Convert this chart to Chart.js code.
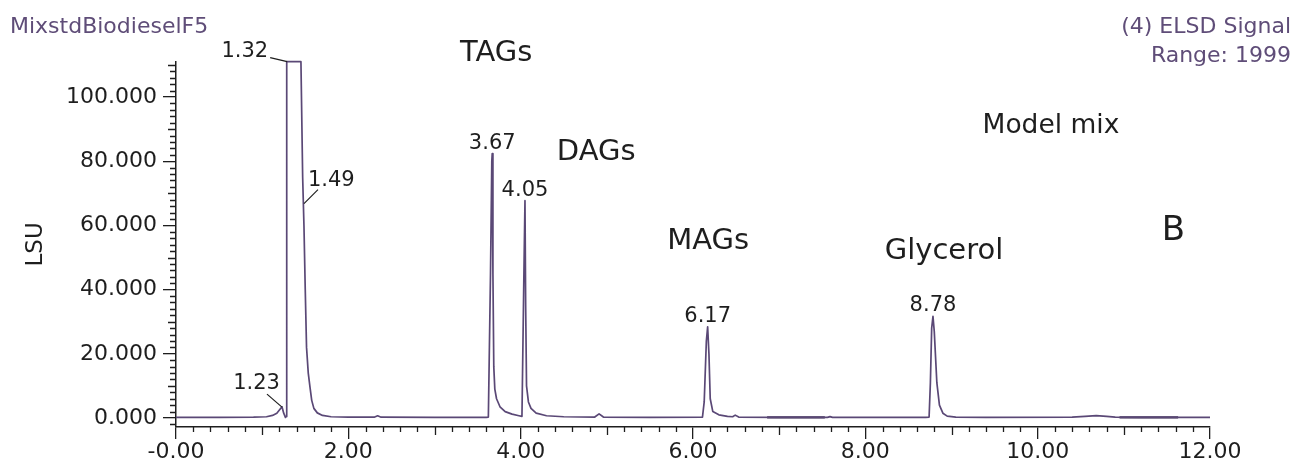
<!DOCTYPE html>
<html>
<head>
<meta charset="utf-8">
<title>MixstdBiodieselF5 - ELSD</title>
<script src="https://cdn.jsdelivr.net/npm/chart.js@4.4.1/dist/chart.umd.min.js"></script>
<style>
  html, body { margin: 0; padding: 0; background: #fff; }
  #wrap { width: 1296px; height: 461px; position: relative; }
</style>
</head>
<body>
<div id="wrap"><canvas id="chromatogram"></canvas></div>
<script>
// retention time (min) and ELSD signal (thousands of LSU)
const times = [
  0.00, 0.50, 0.90, 1.05, 1.12, 1.17, 1.20, 1.23, 1.25, 1.27, 1.28,
  1.285, 1.45, 1.47, 1.485, 1.50, 1.515, 1.535, 1.555, 1.575, 1.60, 1.64, 1.70, 1.80, 2.00,
  2.30, 2.34, 2.38, 3.00, 3.60,
  3.625, 3.65, 3.665, 3.67, 3.678, 3.688, 3.70, 3.72, 3.76, 3.82, 3.90, 3.98,
  4.015, 4.035, 4.05, 4.058, 4.068, 4.09, 4.12, 4.18, 4.30, 4.50,
  4.86, 4.91, 4.96, 5.50,
  6.11, 6.13, 6.155, 6.17, 6.185, 6.20, 6.23, 6.30, 6.40, 6.46, 6.49, 6.53, 7.00,
  7.56, 7.59, 7.62, 8.70,
  8.74, 8.755, 8.77, 8.785, 8.80, 8.83, 8.86, 8.90, 8.95, 9.05, 9.40,
  10.40, 10.55, 10.68, 10.80, 10.90, 11.20, 12.00
];
const signal = [
  0.20, 0.20, 0.25, 0.40, 0.80, 1.50, 2.50, 3.50, 1.50, 0.20, 0.50,
  111.0, 111.0, 75.0, 60.0, 40.0, 22.0, 14.0, 9.6, 5.5, 3.0, 1.6, 0.8, 0.4, 0.3,
  0.25, 0.7, 0.25, 0.2, 0.2,
  0.3, 45.0, 80.0, 82.4, 45.0, 16.0, 9.0, 6.0, 3.5, 2.0, 1.2, 0.7,
  0.5, 40.0, 67.7, 35.0, 10.0, 5.0, 3.0, 1.5, 0.7, 0.4,
  0.3, 1.3, 0.3, 0.2,
  0.3, 5.0, 24.0, 28.4, 20.0, 6.0, 2.0, 1.0, 0.5, 0.4, 0.9, 0.3, 0.2,
  0.2, 0.45, 0.2, 0.2,
  0.3, 11.0, 28.0, 31.7, 27.0, 11.0, 4.0, 1.5, 0.6, 0.3, 0.2,
  0.25, 0.5, 0.75, 0.5, 0.25, 0.2, 0.2
];
// integration baseline segments (start, end in min; level in thousands of LSU)
const baseStarts = [6.86, 10.95];
const baseEnds = [7.53, 11.63];
const baseLevels = [0.2, 0.2];

const xTickLabels = ['-0.00', '2.00', '4.00', '6.00', '8.00', '10.00', '12.00'];
const yTickLabels = ['0.000', '20.000', '40.000', '60.000', '80.000', '100.000'];

// peak retention-time labels
const peakNames = ['1.23', '1.32', '1.49', '3.67', '4.05', '6.17', '8.78'];
const peakTimes = [1.23, 1.29, 1.485, 3.67, 4.05, 6.17, 8.785];
const peakHeights = [3.4, 111.0, 66.8, 82.4, 67.7, 28.4, 31.7];

// compound class annotations
const classNames = ['TAGs', 'DAGs', 'MAGs', 'Glycerol', 'Model mix', 'B'];
const classTimes = [3.295, 4.42, 5.70, 8.225, 9.36, 11.44];
const classLevels = [111.2, 80.4, 52.8, 49.4, 88.8, 55.6];

const FONT = '"DejaVu Sans", Verdana, sans-serif';
const INK = '#1e1e1e';
const TRACE = '#5a4876';
const HEAD = '#5f4d78';

// how the leader-line labels sit around their peak (px)
const leaderStyle = {
  '1.23': { align: 'right', dx: -2, dy: -18, lx: -15, ly: -13 },
  '1.32': { align: 'right', dx: -19, dy: -5, lx: -17, ly: -4 },
  '1.49': { align: 'left', dx: 4, dy: -18, lx: 14, ly: -14 }
};

const baselineData = [];
baseStarts.forEach((s, i) => {
  baselineData.push({ x: s, y: baseLevels[i] }, { x: baseEnds[i], y: baseLevels[i] }, { x: baseEnds[i], y: null });
});

const overlay = {
  id: 'overlay',
  afterDraw(chart) {
    const ctx = chart.ctx;
    const xs = chart.scales.x, ys = chart.scales.y;
    const area = chart.chartArea;
    ctx.save();
    ctx.strokeStyle = INK;
    ctx.lineWidth = 1.3;

    // minor ticks on x: every 0.2, longer at odd minutes
    ctx.beginPath();
    for (let i = 0; i <= 60; i++) {
      if (i % 10 === 0) continue;
      const px = Math.round(xs.getPixelForValue(i * 0.2)) + 0.5;
      const len = i % 5 === 0 ? 8 : 5;
      ctx.moveTo(px, area.bottom);
      ctx.lineTo(px, area.bottom + len);
    }
    // minor ticks on y: every 2 (thousand)
    for (let v = -2; v <= 110; v += 2) {
      if (v % 20 === 0) continue;
      const py = Math.round(ys.getPixelForValue(v)) + 0.5;
      const len = v % 10 === 0 ? 8 : 6;
      ctx.moveTo(area.left, py);
      ctx.lineTo(area.left - len, py);
    }
    ctx.stroke();

    // header
    ctx.fillStyle = HEAD;
    ctx.font = '22px ' + FONT;
    ctx.textAlign = 'left';
    ctx.textBaseline = 'alphabetic';
    ctx.fillText('MixstdBiodieselF5', 10, 33);
    ctx.textAlign = 'right';
    ctx.fillText('(4) ELSD Signal', 1291, 33);
    ctx.fillText('Range: 1999', 1291, 62);

    // peak labels
    ctx.fillStyle = INK;
    ctx.font = '21px ' + FONT;
    peakNames.forEach((name, i) => {
      const px = xs.getPixelForValue(peakTimes[i]);
      const py = ys.getPixelForValue(peakHeights[i]);
      const st = leaderStyle[name];
      if (st) {
        ctx.textAlign = st.align;
        ctx.fillText(name, px + st.dx, py + st.dy);
        ctx.beginPath();
        ctx.lineWidth = 1.2;
        ctx.moveTo(px + st.lx, py + st.ly);
        ctx.lineTo(px, py);
        ctx.stroke();
      } else {
        ctx.textAlign = 'center';
        ctx.fillText(name, px, py - 5);
      }
    });

    // compound classes
    ctx.textAlign = 'left';
    classNames.forEach((name, i) => {
      const size = name === 'B' ? 34 : (name === 'Model mix' ? 26.5 : 29);
      ctx.font = size + 'px ' + FONT;
      ctx.fillText(name, xs.getPixelForValue(classTimes[i]), ys.getPixelForValue(classLevels[i]));
    });
    ctx.restore();
  }
};

const ctx = document.getElementById('chromatogram').getContext('2d');
new Chart(ctx, {
  type: 'line',
  data: {
    datasets: [{
      label: 'ELSD Signal',
      data: times.map((t, i) => ({ x: t, y: signal[i] })),
      borderColor: TRACE,
      borderWidth: 1.7,
      borderJoinStyle: 'round',
      pointRadius: 0,
      tension: 0,
      fill: false,
      clip: false
    }, {
      label: 'Baseline',
      data: baselineData,
      borderColor: '#3f2f55',
      borderWidth: 2.4,
      pointRadius: 0,
      spanGaps: false,
      fill: false
    }]
  },
  options: {
    responsive: true,
    maintainAspectRatio: false,
    animation: false,
    events: [],
    layout: { padding: { left: 0, top: 61.7, right: 86, bottom: 0 } },
    plugins: { legend: { display: false }, tooltip: { enabled: false } },
    scales: {
      x: {
        type: 'linear',
        min: 0,
        max: 12,
        afterFit: (s) => { s.height = 34; },
        border: { display: true, color: INK, width: 1.5 },
        grid: { drawOnChartArea: false, drawTicks: true, tickLength: 12, color: INK, lineWidth: 1.3 },
        ticks: {
          stepSize: 2,
          padding: 0,
          color: INK,
          font: { family: FONT, size: 22 },
          maxRotation: 0,
          autoSkip: false,
          callback: (v, i) => xTickLabels[i]
        }
      },
      y: {
        type: 'linear',
        min: -2.8,
        max: 111,
        afterFit: (s) => { s.width = 176; },
        border: { display: true, color: INK, width: 1.5 },
        grid: { drawOnChartArea: false, drawTicks: true, tickLength: 13, color: INK, lineWidth: 1.3 },
        title: {
          display: true,
          text: 'LSU',
          color: INK,
          font: { family: FONT, size: 23 },
          padding: { top: 22, bottom: 0 }
        },
        ticks: {
          stepSize: 20,
          includeBounds: false,
          padding: 6,
          color: INK,
          font: { family: FONT, size: 22 },
          autoSkip: false,
          callback: (v, i) => yTickLabels[i]
        }
      }
    }
  },
  plugins: [overlay]
});
</script>
</body>
</html>
